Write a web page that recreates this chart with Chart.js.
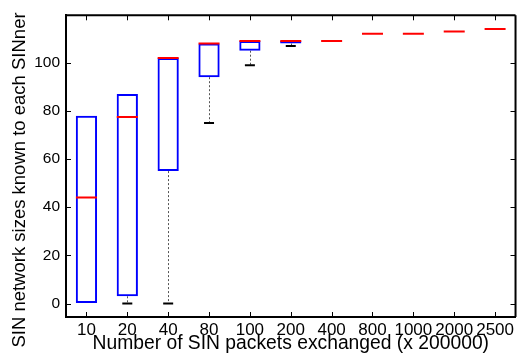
<!DOCTYPE html>
<html>
<head>
<meta charset="utf-8">
<script src="https://cdn.jsdelivr.net/npm/chart.js@4/dist/chart.umd.min.js"></script>
<style>
  html, body { margin: 0; padding: 0; background: #fff; }
  #wrap { width: 517px; height: 360px; position: relative; }
</style>
</head>
<body>
<div id="wrap"><canvas id="c" width="517" height="360"></canvas></div>
<script>
const categories = ['10', '20', '40', '80', '100', '200', '400', '800', '1000', '2000', '2500'];
const boxLow   = [0, 3, 55, 94, 105, 108, null, null, null, null, null];
const boxHigh  = [78, 87, 102, 108, 109, 109, null, null, null, null, null];
const medians  = [44, 77.5, 102, 108, 109, 109, 109, 112, 112, 113, 114];
const whiskerLow = [null, 0, 0, 75, 99, 107, null, null, null, null, null];
const yTicks = [0, 20, 40, 60, 80, 100];
const xTitle = 'Number of SIN packets exchanged (x 200000)';
const yTitle = 'SIN network sizes known to each SINner';

const FONT = "'Liberation Sans', Arial, Helvetica, sans-serif";

const boxes = categories.map((c, i) => (boxLow[i] === null ? null : [boxLow[i], boxHigh[i]]));

const whiskerPlugin = {
  id: 'whiskers',
  beforeDatasetsDraw(chart) {
    const ctx = chart.ctx;
    const xs = chart.scales.x, ys = chart.scales.y;
    ctx.save();
    ctx.strokeStyle = '#555';
    ctx.lineWidth = 1;
    ctx.setLineDash([2, 2]);
    categories.forEach((c, i) => {
      if (whiskerLow[i] === null) return;
      const x = Math.round(xs.getPixelForValue(i)) + 0.5;
      ctx.beginPath();
      ctx.moveTo(x, ys.getPixelForValue(boxLow[i]));
      ctx.lineTo(x, ys.getPixelForValue(whiskerLow[i]));
      ctx.stroke();
    });
    ctx.restore();
  }
};

const innerTicks = {
  id: 'innerTicks',
  afterDraw(chart) {
    const ctx = chart.ctx;
    const a = chart.chartArea;
    const xs = chart.scales.x, ys = chart.scales.y;
    ctx.save();
    ctx.strokeStyle = '#000';
    ctx.lineWidth = 1;
    ctx.beginPath();
    ys.ticks.forEach(t => {
      const y = Math.round(ys.getPixelForValue(t.value)) + 0.5;
      ctx.moveTo(a.left, y); ctx.lineTo(a.left + 5, y);
      ctx.moveTo(a.right, y); ctx.lineTo(a.right - 5, y);
    });
    categories.forEach((c, i) => {
      const x = Math.round(xs.getPixelForValue(i)) + 0.5;
      ctx.moveTo(x, a.bottom); ctx.lineTo(x, a.bottom - 5);
      ctx.moveTo(x, a.top); ctx.lineTo(x, a.top + 5);
    });
    ctx.stroke();
    ctx.lineWidth = 2;
    ctx.beginPath();
    ctx.moveTo(a.left, a.top); ctx.lineTo(a.right, a.top);
    ctx.moveTo(a.right, a.top); ctx.lineTo(a.right, a.bottom);
    ctx.stroke();

    // y-axis title, centred on the full canvas height as in the reference
    ctx.fillStyle = '#000';
    ctx.font = '18.5px ' + FONT;
    ctx.textAlign = 'center';
    ctx.textBaseline = 'alphabetic';
    ctx.translate(25, 180);
    ctx.rotate(-Math.PI / 2);
    ctx.fillText(yTitle, 0, 0);
    ctx.restore();
  }
};

new Chart(document.getElementById('c'), {
  type: 'bar',
  data: {
    labels: categories,
    datasets: [
      {
        type: 'bar',
        data: boxes,
        backgroundColor: 'rgba(0,0,0,0)',
        borderColor: '#0000ff',
        borderWidth: 2,
        borderSkipped: false,
        barPercentage: 0.52,
        categoryPercentage: 1.0,
        order: 3
      },
      {
        type: 'line',
        data: medians,
        showLine: false,
        pointStyle: 'line',
        pointRadius: 10.5,
        pointHoverRadius: 10.5,
        pointBorderColor: '#ff0000',
        pointBorderWidth: 2,
        order: 1
      },
      {
        type: 'line',
        data: whiskerLow,
        showLine: false,
        pointStyle: 'line',
        pointRadius: 5,
        pointHoverRadius: 5,
        pointBorderColor: '#000000',
        pointBorderWidth: 2,
        order: 2
      }
    ]
  },
  options: {
    responsive: false,
    animation: false,
    events: [],
    layout: { autoPadding: false, padding: { top: 13, right: 0, left: 0, bottom: 0 } },
    plugins: { legend: { display: false }, tooltip: { enabled: false } },
    scales: {
      x: {
        grid: { display: true, drawOnChartArea: false, drawTicks: false, color: 'rgba(0,0,0,0)' },
        border: { display: true, color: '#000', width: 2 },
        ticks: { color: '#000', font: { family: FONT, size: 17 }, padding: 3, maxRotation: 0, autoSkip: false },
        title: { display: true, text: xTitle, color: '#000', font: { family: FONT, size: 19.3 }, padding: { top: 0, bottom: 5 } },
        afterFit(s) { s.height = 43; }
      },
      y: {
        min: -5.6,
        max: 119.7,
        afterBuildTicks(s) { s.ticks = yTicks.map(v => ({ value: v })); },
        grid: { display: true, drawOnChartArea: false, drawTicks: false, color: 'rgba(0,0,0,0)' },
        border: { display: true, color: '#000', width: 2 },
        ticks: { color: '#000', font: { family: FONT, size: 15.5 }, padding: 6 },
        title: { display: false },
        afterFit(s) { s.width = 66; }
      }
    }
  },
  plugins: [whiskerPlugin, innerTicks]
});
</script>
</body>
</html>
